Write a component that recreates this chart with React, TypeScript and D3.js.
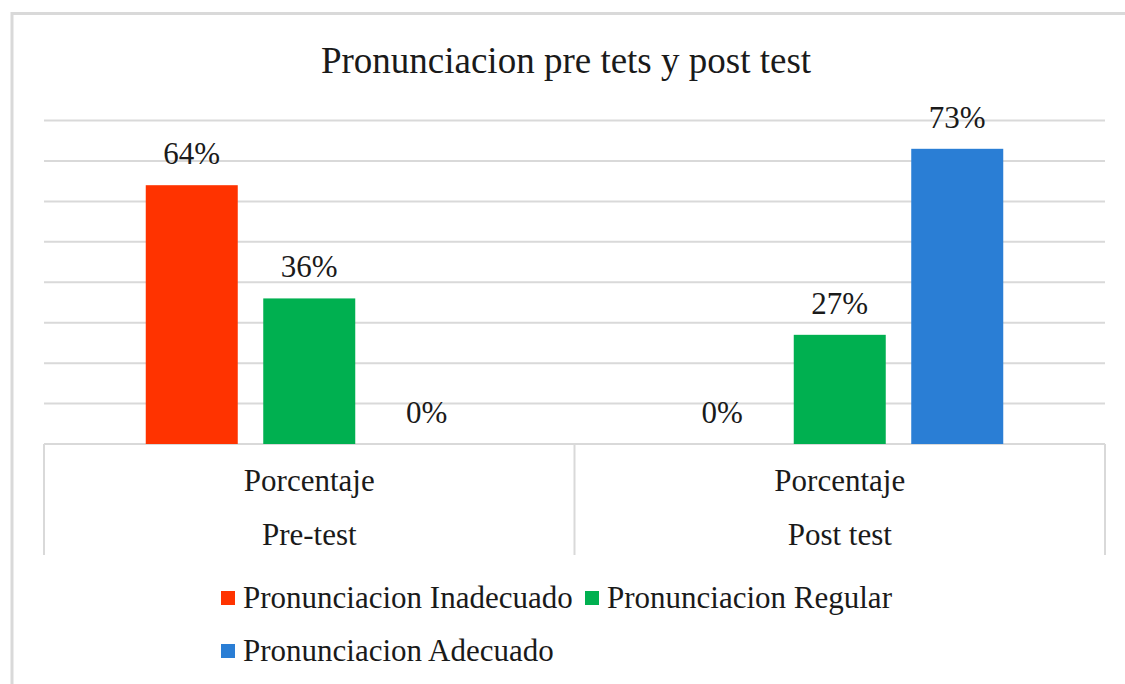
import React from "react";
import * as d3 from "d3";

const categories = ["Pre-test", "Post test"];
const subLabel = "Porcentaje";
const series = ["Pronunciacion Inadecuado", "Pronunciacion Regular", "Pronunciacion Adecuado"];
const colors = ["#FF3300", "#00B050", "#2A7ED5"];
// values[seriesIndex][categoryIndex]
const inadecuado = [64, 0];
const regular = [36, 27];
const adecuado = [0, 73];
const values = [inadecuado, regular, adecuado];
const gridTicks = [0, 10, 20, 30, 40, 50, 60, 70, 80];
const title = "Pronunciacion pre tets y post test";

const W = 1125;
const H = 684;
const FONT = "'Liberation Serif', 'Times New Roman', serif";

export default function App() {
  const x0 = d3.scaleBand<string>().domain(categories).range([44, 1105]).padding(0);
  const x1 = d3
    .scaleBand<string>()
    .domain(series)
    .range([0, x0.bandwidth()])
    .paddingInner(0.217)
    .paddingOuter(0.866);
  const y = d3.scaleLinear().domain([0, 80]).range([444, 120.5]);

  const legendItems = [
    { x: 221, y: 591 },
    { x: 585, y: 591 },
    { x: 221, y: 644 },
  ];

  return (
    <svg
      width={W}
      height={H}
      style={{ position: "absolute", left: 0, top: 0, background: "#fff" }}
      fontFamily={FONT}
    >
      <rect x={0} y={0} width={W} height={H} fill="#fff" />
      {/* outer chart border */}
      <rect x={12} y={13.5} width={W + 20} height={H + 20} fill="none" stroke="#d9d9d9" strokeWidth={3} />
      <text x={566} y={73} textAnchor="middle" fontSize={37} fill="#1a1a1a">
        {title}
      </text>
      {/* gridlines */}
      {gridTicks.map((t) => (
        <line key={t} x1={44} x2={1105} y1={y(t)} y2={y(t)} stroke="#d9d9d9" strokeWidth={2} />
      ))}
      {/* category separators */}
      {[...categories.map((c) => x0(c)!), x0.range()[1]].map((xx, i) => (
        <line key={i} x1={xx} x2={xx} y1={y(0)} y2={555} stroke="#d9d9d9" strokeWidth={2} />
      ))}
      {/* bars */}
      {categories.map((c, ci) =>
        series.map((s, si) => {
          const v = values[si][ci];
          const bx = x0(c)! + x1(s)!;
          return (
            <g key={c + s}>
              {v > 0 && (
                <rect x={bx} y={y(v)} width={x1.bandwidth()} height={y(0) - y(v)} fill={colors[si]} />
              )}
              <text
                x={bx + x1.bandwidth() / 2}
                y={y(v) - 21}
                textAnchor="middle"
                fontSize={31}
                fill="#1a1a1a"
              >
                {v + "%"}
              </text>
            </g>
          );
        })
      )}
      {/* axis labels */}
      {categories.map((c) => (
        <g key={c}>
          <text x={x0(c)! + x0.bandwidth() / 2} y={491} textAnchor="middle" fontSize={31} fill="#1a1a1a">
            {subLabel}
          </text>
          <text x={x0(c)! + x0.bandwidth() / 2} y={545} textAnchor="middle" fontSize={31} fill="#1a1a1a">
            {c}
          </text>
        </g>
      ))}
      {/* legend */}
      {series.map((s, i) => (
        <g key={s}>
          <rect x={legendItems[i].x} y={legendItems[i].y} width={14} height={14} fill={colors[i]} />
          <text x={legendItems[i].x + 22} y={legendItems[i].y + 16.5} fontSize={31} fill="#1a1a1a">
            {s}
          </text>
        </g>
      ))}
    </svg>
  );
}
